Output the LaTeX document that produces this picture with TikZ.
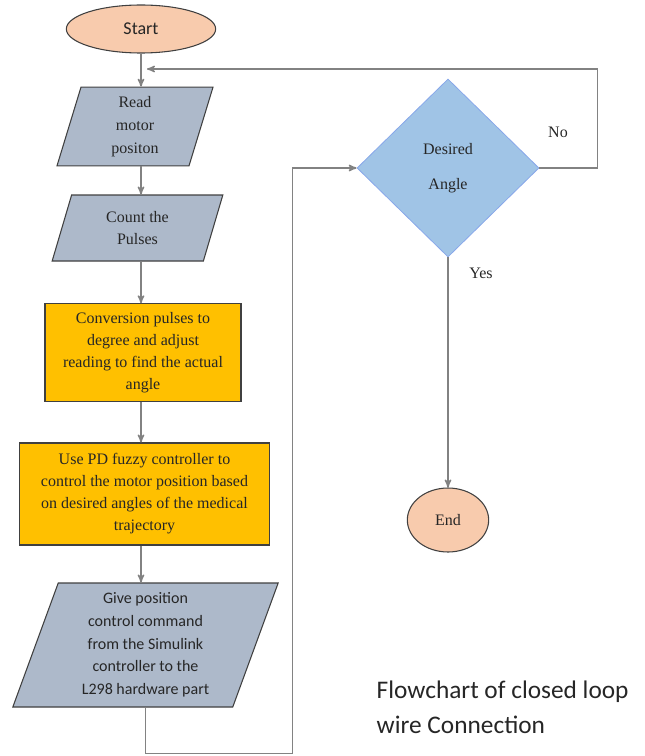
\documentclass[tikz,border=0pt]{standalone}
\usepackage{fontspec}
\setmainfont{Liberation Serif}
\newfontfamily\carlito{Carlito}
\usetikzlibrary{shapes.geometric,arrows,positioning}
\definecolor{peach}{RGB}{248,203,173}
\definecolor{slate}{RGB}{173,185,202}
\definecolor{amber}{RGB}{255,192,0}
\definecolor{skyblue}{RGB}{160,196,230}
\definecolor{edge}{RGB}{64,64,64}
\definecolor{wire}{RGB}{130,130,130}
\tikzset
    {
        term/.style = {ellipse, draw=edge, fill=peach, line width=0.8pt, inner sep=0pt},
        io/.style = {trapezium, trapezium stretches body, draw=edge, fill=slate, line width=0.8pt, align=center, inner sep=1pt, font=\fontsize{12}{17}\selectfont},
        proc/.style = {rectangle, draw=edge, fill=amber, line width=0.8pt, align=center, inner sep=1pt, font=\fontsize{12}{16.5}\selectfont},
        decide/.style = {diamond, draw=skyblue!85!blue, fill=skyblue, line width=0.6pt, align=center, inner sep=0pt, font=\fontsize{12}{14}\selectfont}
    }
\begin{document}
\begin{tikzpicture}[->,>=stealth', x=0.75pt, y=-0.75pt, draw=wire, line width=1.1pt, text=black!85]
    \useasboundingbox (0,0) rectangle (644,756);
    \node [term, minimum width=112pt, minimum height=36pt, font=\carlito\fontsize{13.5}{15}\selectfont] (start) at (141,29) {Start};
    \node [io, trapezium left angle=69, trapezium right angle=111, minimum width=117pt, minimum height=59pt] (read) at (135,126.5) {Read\\motor\\positon};
    \node [io, trapezium left angle=62, trapezium right angle=118, minimum width=128pt, minimum height=49.5pt] (count) at (137.5,228) {Count the\\Pulses};
    \node [proc, minimum width=147pt, minimum height=73pt] (conv) at (143,352.5) {Conversion pulses to\\degree and adjust\\reading to find the actual\\angle};
    \node [proc, minimum width=187pt, minimum height=76.5pt] (fuzzy) at (144.5,494) {Use PD fuzzy controller to\\control the motor position based\\on desired angles of the medical\\trajectory};
    \node [io, font=\carlito\fontsize{12}{17}\selectfont, trapezium left angle=67, trapezium right angle=113, minimum width=199pt, minimum height=93pt] (cmd) at (145.5,645) {Give position\\control command\\from the Simulink\\controller to the\\L298 hardware part};
    \node [decide, minimum width=136.5pt, minimum height=133.5pt] (angle) at (448,168) {Desired\\[12pt]Angle};
    \node [term, minimum width=61pt, minimum height=48pt, font=\fontsize{12}{14}\selectfont] (end) at (448,520) {End};
    \node [font=\fontsize{12}{14}\selectfont] (no) at (558,132) {No};
    \node [font=\fontsize{12}{14}\selectfont] (yes) at (481,273) {Yes};
    \node [right, align=left, inner sep=0pt, font=\carlito\fontsize{19}{26}\selectfont] (caption) at (376,707) {Flowchart of closed loop\\wire Connection};
    \coordinate (merge) at (147,69);

    \draw (start) -- (start |- read.north);
    \draw (start |- read.south) -- (start |- count.north);
    \draw (start |- count.south) -- (start |- conv.north);
    \draw (start |- conv.south) -- (start |- fuzzy.north);
    \draw (start |- fuzzy.south) -- (start |- cmd.north);
    \draw (cmd.south) -- ++(0,46) -| ([xshift=-48pt]angle.west) -- (angle.west);
    \draw (angle.east) -- ++(58,0) |- (merge);
    \draw (angle.south) -- (end.north);
\end{tikzpicture}
\end{document}
